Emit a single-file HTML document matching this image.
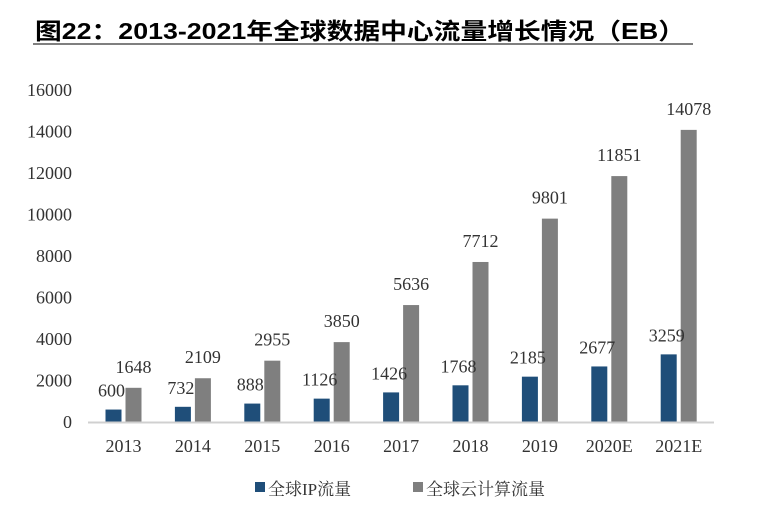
<!DOCTYPE html>
<html><head><meta charset="utf-8"><style>
body{margin:0;background:#fff;}
svg text{font-family:"Liberation Serif","Noto Serif CJK SC",serif;}
</style></head><body>
<svg width="759" height="516">
<text x="35" y="39" font-size="23" font-weight="bold" textLength="650" lengthAdjust="spacingAndGlyphs" style="font-family:'Liberation Sans','Noto Sans CJK SC',sans-serif" fill="#000">图22：2013-2021年全球数据中心流量增长情况（EB）</text>
<line x1="33" y1="44" x2="693" y2="44" stroke="#555" stroke-width="1.5"/>
<g id="yaxis"></g><g id="bars"></g><g id="xaxis"></g>
<line x1="88" y1="422.5" x2="714" y2="422.5" stroke="#d0d0d0" stroke-width="2"/>
<g>
<rect x="255" y="482" width="10" height="10" fill="#1f4e79"/>
<text x="268" y="495" font-size="17" fill="#333">全球IP流量</text>
<rect x="413" y="482" width="10" height="10" fill="#7f7f7f"/>
<text x="426" y="495" font-size="17" fill="#333">全球云计算流量</text>
</g>
</svg>
<script>
const categories=["2013","2014","2015","2016","2017","2018","2019","2020E","2021E"];
const ipTraffic=[600,732,888,1126,1426,1768,2185,2677,3259];
const cloudTraffic=[1648,2109,2955,3850,5636,7712,9801,11851,14078];
const yTicks=[0,2000,4000,6000,8000,10000,12000,14000,16000];
const NS="http://www.w3.org/2000/svg";
const y0=422,yMax=16000,yTop=90,left=88.8,band=69.4;
function y(v){return y0-(v/yMax)*(y0-yTop);}
function xc(i){return left+band*(i+0.5);}
function mk(tag,attrs,parent,txt){const e=document.createElementNS(NS,tag);for(const k in attrs)e.setAttribute(k,attrs[k]);if(txt!==undefined)e.textContent=txt;document.getElementById(parent).appendChild(e);return e;}
yTicks.forEach(t=>{
 const e=mk("text",{x:72,y:y(t)+6,"text-anchor":"end","font-size":"18",fill:"#333"},"yaxis",t);
 
 
});
categories.forEach((c,i)=>{
 const cx=xc(i);
 const e=mk("text",{x:cx,y:452,"text-anchor":"middle","font-size":"18",fill:"#333"},"xaxis",c);
 
 
 const b1=mk("rect",{x:cx-18,y:y(ipTraffic[i]),width:16,height:y0-y(ipTraffic[i]),fill:"#1f4e79"},"bars");
 
 
 const b2=mk("rect",{x:cx+2,y:y(cloudTraffic[i]),width:16,height:y0-y(cloudTraffic[i]),fill:"#7f7f7f"},"bars");
 
 
 const l1=mk("text",{x:cx-12,y:y(ipTraffic[i])-13,"text-anchor":"middle","font-size":"18",fill:"#333"},"bars",ipTraffic[i]);
 
 
 const l2=mk("text",{x:cx+10,y:y(cloudTraffic[i])-15,"text-anchor":"middle","font-size":"18",fill:"#333"},"bars",cloudTraffic[i]);
 
 
});
</script>
</body></html>
